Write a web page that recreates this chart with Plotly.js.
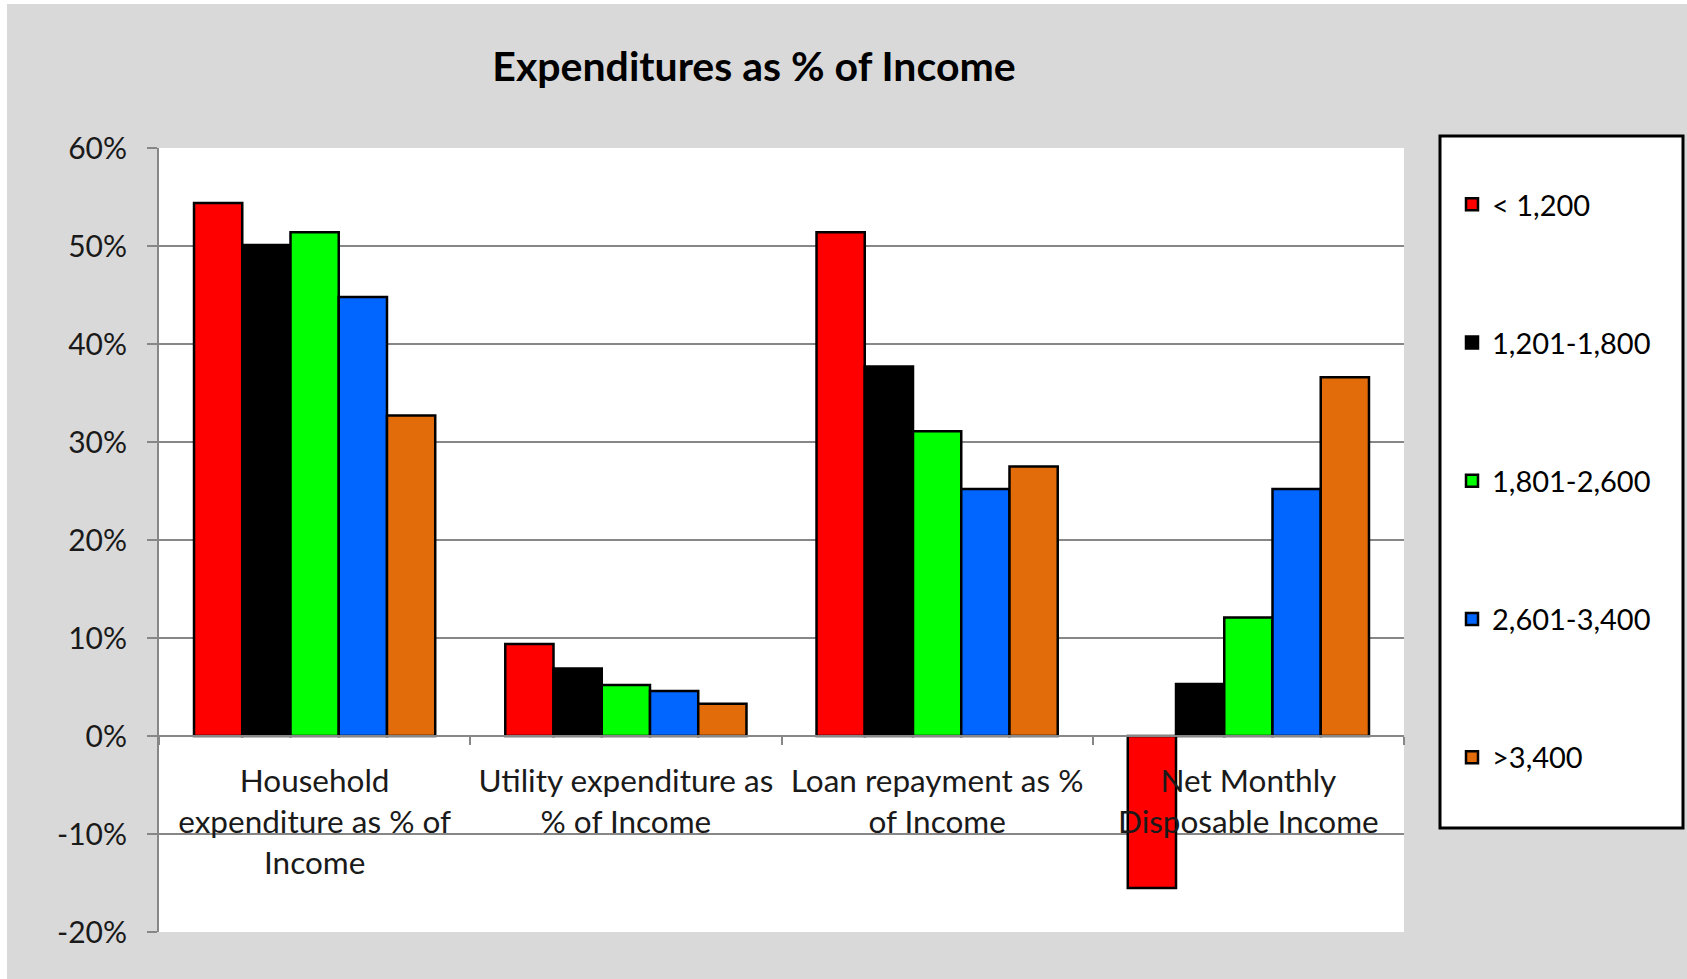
<!DOCTYPE html>
<html>
<head>
<meta charset="utf-8">
<script src="https://cdn.plot.ly/plotly-3.0.1.min.js"></script>
<style>html,body{margin:0;padding:0;background:#d9d9d9;}#chart{width:1687px;height:979px;}</style>
</head>
<body>
<div id="chart"></div>
<script>
const categories = ["Household", "Utility", "Loan", "Net"];
const tickLabels = [
  "Household<br>expenditure as % of<br>Income",
  "Utility expenditure as<br>% of Income",
  "Loan repayment as %<br>of Income",
  "Net Monthly<br>Disposable Income"
];
const yTickVals = [-0.2, -0.1, 0, 0.1, 0.2, 0.3, 0.4, 0.5, 0.6];
const yTickLabels = ["-20%", "-10%", "0%", "10%", "20%", "30%", "40%", "50%", "60%"];
const seriesNames = ["< 1,200", "1,201-1,800", "1,801-2,600", "2,601-3,400", ">3,400"];
const seriesColors = ["#ff0000", "#000000", "#00ff00", "#0066ff", "#e36c0a"];
const under1200 = [0.544, 0.094, 0.514, -0.155];
const from1201 = [0.501, 0.069, 0.377, 0.053];
const from1801 = [0.514, 0.052, 0.311, 0.121];
const from2601 = [0.448, 0.046, 0.252, 0.252];
const over3400 = [0.327, 0.033, 0.275, 0.366];
const seriesValues = [under1200, from1201, from1801, from2601, over3400];

const FONT = "Lato, 'Open Sans', sans-serif";
const traces = seriesNames.map((name, i) => ({
  type: "bar",
  name: name,
  x: categories,
  y: seriesValues[i],
  legendgroup: "g" + i,
  marker: {color: seriesColors[i], line: {color: "#000000", width: 2.5}}
}));

const W = 1687, H = 979, L = 159, R = 283, T = 148, B = 47;
const pw = W - L - R, ph = H - T - B;
const px = v => (v - L) / pw;
const py = v => (H - B - v) / ph;

const layout = {
  width: W, height: H,
  paper_bgcolor: "#d9d9d9",
  plot_bgcolor: "#ffffff",
  margin: {l: L, r: R, t: T, b: B, pad: 0},
  title: {
    text: "Expenditures as % of Income",
    font: {family: FONT, size: 41, color: "#000000", weight: "bold"},
    x: 754 / W, xanchor: "center", xref: "container",
    y: 1 - 67 / H, yanchor: "middle", yref: "container"
  },
  barmode: "group",
  bargap: 0.225,
  bargroupgap: 0,
  showlegend: true,
  legend: {
    x: px(1452), xanchor: "left",
    y: py(179), yanchor: "top",
    bgcolor: "rgba(0,0,0,0)",
    borderwidth: 0,
    font: {family: FONT, size: 29, color: "#000000"},
    tracegroupgap: 97.5,
    traceorder: "grouped"
  },
  xaxis: {
    type: "category",
    anchor: "free",
    position: 0.25,
    showline: true, linecolor: "#878787", linewidth: 2,
    showgrid: false, zeroline: false,
    ticks: "outside", tickson: "boundaries", ticklen: 8, tickwidth: 2, tickcolor: "#878787",
    tickvals: categories, ticktext: tickLabels,
    ticklabelstandoff: 17,
    tickfont: {family: FONT, size: 31.5, color: "#1a1a1a"}
  },
  yaxis: {
    range: [-0.2, 0.6],
    tickvals: yTickVals, ticktext: yTickLabels,
    showline: true, linecolor: "#878787", linewidth: 2,
    showgrid: true, gridcolor: "#878787", gridwidth: 2,
    zeroline: true, zerolinecolor: "#878787", zerolinewidth: 2,
    ticks: "outside", ticklen: 10, tickwidth: 2, tickcolor: "#878787",
    ticklabelstandoff: 14,
    tickfont: {family: FONT, size: 30, color: "#1a1a1a"}
  },
  shapes: [
    {type: "rect", xref: "paper", yref: "paper", layer: "below",
     x0: px(1440), x1: px(1683), y0: py(828), y1: py(136),
     fillcolor: "#ffffff", line: {color: "#000000", width: 3}},
    {type: "rect", xref: "paper", yref: "paper", layer: "below",
     x0: px(0), x1: px(7), y0: py(979), y1: py(0),
     fillcolor: "#ffffff", line: {width: 0}},
    {type: "rect", xref: "paper", yref: "paper", layer: "below",
     x0: px(0), x1: px(1687), y0: py(4), y1: py(0),
     fillcolor: "#ffffff", line: {width: 0}}
  ]
};

Plotly.newPlot("chart", traces, layout, {staticPlot: true, displayModeBar: false});
</script>
</body>
</html>
